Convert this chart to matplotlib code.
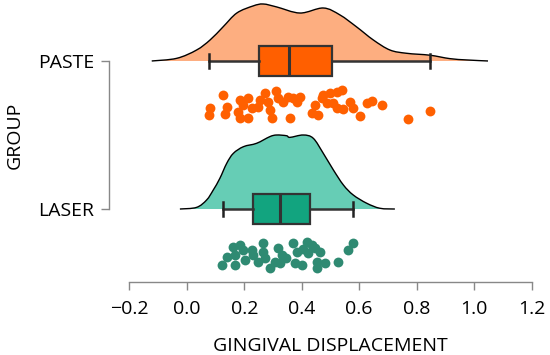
#!/usr/bin/env python3
# -*- coding: utf-8 -*-

import matplotlib
matplotlib.use('Agg')
import matplotlib.pyplot as plt
from matplotlib.path import Path
from matplotlib.patches import PathPatch

groups = ['LASER', 'PASTE']

# box statistics (whisker low, Q1, median, Q3, whisker high)
laser_box = [0.125, 0.231, 0.324, 0.429, 0.577]
paste_box = [0.077, 0.252, 0.357, 0.506, 0.847]

# density outline (x, relative height)
laser_dx = [-0.024, 0.034, 0.069, 0.092, 0.115, 0.139, 0.162, 0.197, 0.243, 0.289,
            0.313, 0.347, 0.359, 0.405, 0.440, 0.475, 0.510, 0.545, 0.579, 0.626,
            0.672, 0.724]
laser_dy = [0, 0.011, 0.061, 0.128, 0.207, 0.309, 0.376, 0.421, 0.444, 0.489,
            0.500, 0.495, 0.484, 0.500, 0.478, 0.376, 0.264, 0.162, 0.095, 0.039,
            0.005, 0]
paste_dx = [-0.122, -0.035, 0.034, 0.081, 0.126, 0.174, 0.231, 0.266, 0.313, 0.394,
            0.475, 0.533, 0.591, 0.649, 0.707, 0.765, 0.846, 0.915, 0.974, 1.048]
paste_dy = [0, 0.018, 0.074, 0.142, 0.230, 0.324, 0.372, 0.385, 0.365, 0.324,
            0.358, 0.311, 0.230, 0.142, 0.074, 0.052, 0.039, 0.016, 0.007, 0]

# raw observations and their vertical jitter below the group line
paste_x = [0.081, 0.077, 0.126, 0.140, 0.133, 0.185, 0.195, 0.178, 0.185, 0.213,
           0.227, 0.213, 0.255, 0.248, 0.272, 0.282, 0.289, 0.296, 0.310, 0.317,
           0.335, 0.352, 0.359, 0.369, 0.383, 0.394, 0.446, 0.435, 0.456, 0.470,
           0.488, 0.474, 0.498, 0.522, 0.540, 0.509, 0.522, 0.543, 0.568, 0.578,
           0.602, 0.627, 0.644, 0.679, 0.769, 0.846]
paste_j = [0.318, 0.365, 0.230, 0.311, 0.358, 0.264, 0.297, 0.345, 0.385, 0.250,
           0.318, 0.385, 0.264, 0.311, 0.216, 0.277, 0.331, 0.385, 0.203, 0.250,
           0.277, 0.243, 0.385, 0.250, 0.277, 0.243, 0.297, 0.351, 0.365, 0.250,
           0.284, 0.230, 0.216, 0.209, 0.196, 0.284, 0.318, 0.324, 0.277, 0.318,
           0.372, 0.284, 0.270, 0.297, 0.392, 0.338]
laser_x = [0.121, 0.139, 0.162, 0.168, 0.168, 0.197, 0.202, 0.226, 0.231, 0.266,
           0.266, 0.272, 0.289, 0.307, 0.318, 0.330, 0.324, 0.370, 0.382, 0.376,
           0.400, 0.417, 0.423, 0.434, 0.446, 0.452, 0.452, 0.463, 0.481, 0.527,
           0.562, 0.579, 0.185, 0.248, 0.345, 0.404]
laser_j = [0.378, 0.326, 0.255, 0.311, 0.378, 0.277, 0.345, 0.277, 0.311, 0.232,
           0.289, 0.333, 0.401, 0.356, 0.266, 0.311, 0.367, 0.232, 0.289, 0.367,
           0.378, 0.221, 0.299, 0.243, 0.266, 0.356, 0.401, 0.289, 0.367, 0.356,
           0.277, 0.232, 0.243, 0.358, 0.331, 0.270]


def smooth_path(xs, ys, closed_base=None):
    # Catmull-Rom style bezier through the outline points
    pts = list(zip(xs, ys))
    verts = [pts[0]]
    codes = [Path.MOVETO]
    n = len(pts)
    for i in range(n - 1):
        p0 = pts[max(i - 1, 0)]
        p1 = pts[i]
        p2 = pts[i + 1]
        p3 = pts[min(i + 2, n - 1)]
        c1 = (p1[0] + (p2[0] - p0[0]) / 6, p1[1] + (p2[1] - p0[1]) / 6)
        c2 = (p2[0] - (p3[0] - p1[0]) / 6, p2[1] - (p3[1] - p1[1]) / 6)
        verts += [c1, c2, p2]
        codes += [Path.CURVE4] * 3
    if closed_base is not None:
        verts += [(xs[-1], closed_base), (xs[0], closed_base), pts[0]]
        codes += [Path.LINETO, Path.LINETO, Path.CLOSEPOLY]
    return Path(verts, codes)


def plot():
    plt.rcParams['font.family'] = ['Open Sans', 'DejaVu Sans']
    fig = plt.figure(figsize=(5.5, 3.55), dpi=100)
    ax = fig.add_axes([0.2351, 0.2065, 0.7316, 0.7935])

    styles = [
        (0, laser_dx, laser_dy, laser_x, laser_j, laser_box, '#66CDB5', '#12A47F', '#2F8A72'),
        (1, paste_dx, paste_dy, paste_x, paste_j, paste_box, '#FDAE80', '#FF5F00', '#FF6000'),
    ]
    for pos, dx, dy, px, pj, box, dcol, bcol, pcol in styles:
        top = [pos + v for v in dy]
        ax.add_patch(PathPatch(smooth_path(dx, top, closed_base=pos),
                               facecolor=dcol, edgecolor='none', zorder=1))
        ax.add_patch(PathPatch(smooth_path(dx, top), fill=False,
                               edgecolor='black', lw=1.0, zorder=2))
        ax.scatter(px, [pos - j for j in pj], s=50, color=pcol, lw=0, zorder=3)
        stats = [{'whislo': box[0], 'q1': box[1], 'med': box[2], 'q3': box[3],
                  'whishi': box[4], 'fliers': []}]
        ax.bxp(stats, positions=[pos], orientation='horizontal', widths=0.2,
               capwidths=0.1, patch_artist=True, manage_ticks=False,
               boxprops=dict(facecolor=bcol, edgecolor='#333333', linewidth=1.6),
               medianprops=dict(color='#333333', linewidth=2.2),
               whiskerprops=dict(color='#333333', linewidth=1.8),
               capprops=dict(color='#222222', linewidth=1.8),
               zorder=4)

    ax.set_xlim(-0.2, 1.2)
    ax.set_ylim(-0.491, 1.412)
    ax.set_xticks([-0.2, 0.0, 0.2, 0.4, 0.6, 0.8, 1.0, 1.2])
    ax.set_xticklabels(['\u22120.2', '0.0', '0.2', '0.4', '0.6', '0.8', '1.0', '1.2'])
    ax.set_yticks([0, 1])
    ax.set_yticklabels(groups)

    for s in ['top', 'right']:
        ax.spines[s].set_visible(False)
    ax.spines['left'].set_position(('outward', 14.4))
    ax.spines['left'].set_bounds(0, 1)
    ax.spines['bottom'].set_bounds(-0.2, 1.2)
    for s in ['left', 'bottom']:
        ax.spines[s].set_color('#888888')
        ax.spines[s].set_linewidth(1.0)
    ax.tick_params(axis='both', colors='#888888', labelcolor='black', labelsize=14,
                   length=6, width=1.0)
    ax.tick_params(axis='x', pad=7)
    ax.tick_params(axis='y', pad=5)

    ax.set_xlabel('GINGIVAL DISPLACEMENT', fontsize=14, labelpad=14)
    ax.set_ylabel('GROUP', fontsize=14)
    ax.yaxis.set_label_coords(-0.262, 0.52)

    fig.savefig('out.png', dpi=100)


if __name__ == '__main__':
    plot()
